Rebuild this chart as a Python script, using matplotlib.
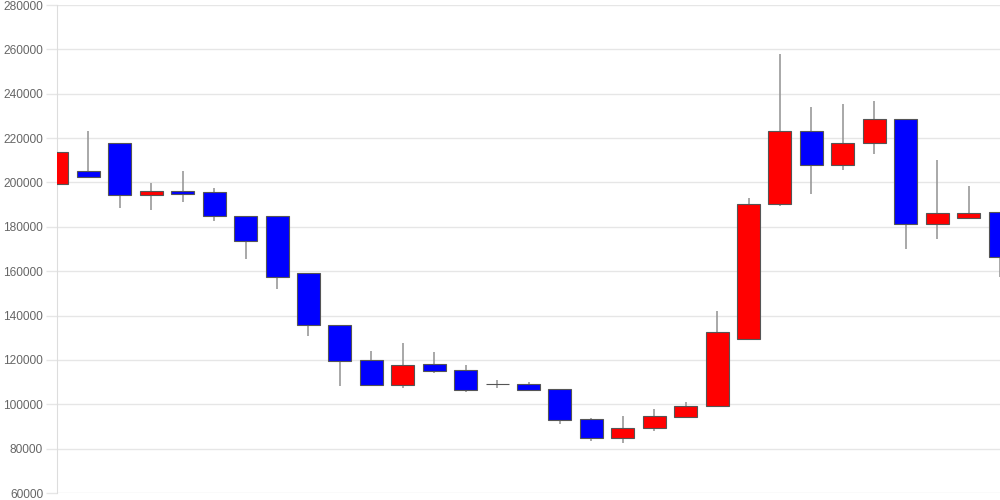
import numpy as np
import matplotlib
matplotlib.use('Agg')
import matplotlib.pyplot as plt

# daily OHLC (31 candles)
opens = [199500, 205200, 217800, 194300, 196300, 195600, 184900, 184900, 159200, 135600,
         119800, 108500, 118200, 115300, 109300, 109100, 106700, 93200, 84900, 89400,
         94400, 99000, 129400, 190200, 223000, 207700, 217600, 228600, 181100, 184100,
         186700]
closes = [213800, 202600, 194300, 196200, 195000, 185000, 173500, 157200, 135600, 119600,
          108500, 117500, 115200, 106500, 109100, 106500, 93000, 84900, 89200, 94700,
          99200, 132700, 190300, 223000, 207700, 217600, 228600, 181100, 186100, 186100,
          166200]
highs = [215000, 223200, 218000, 199600, 205200, 197600, 184900, 184900, 159200, 135600,
         124100, 127600, 123500, 117700, 111000, 110000, 106700, 93600, 94700, 97700,
         101000, 142000, 193100, 257800, 234000, 235200, 236700, 228600, 210000, 198500,
         186700]
lows = [194300, 202600, 188500, 187600, 191000, 182600, 165600, 151800, 130900, 108100,
        108500, 107400, 114100, 105600, 107200, 106100, 91200, 83500, 82600, 87900,
        94400, 99000, 129400, 189500, 194600, 205600, 212700, 169800, 174600, 184100,
        157500]
y_ticks = [60000, 80000, 100000, 120000, 140000, 160000, 180000, 200000, 220000, 240000, 260000, 280000]

o = np.array(opens)
c = np.array(closes)
x = np.arange(len(opens))
colors = ['#ff0000' if cc >= oo else '#0000ff' for oo, cc in zip(o, c)]

fig = plt.figure(figsize=(10, 5), dpi=100)
ax = fig.add_axes([0.057, 0.014, 0.943, 0.976])

ax.vlines(x, lows, highs, color='#999999', linewidth=1.2, zorder=2)
ax.bar(x, np.maximum(np.abs(c - o), 150), bottom=np.minimum(o, c), width=0.73,
       color=colors, edgecolor='#555555', linewidth=0.8, zorder=3)

ax.set_xlim(0, 30)
ax.set_ylim(60000, 280000)
ax.set_yticks(y_ticks)
ax.set_yticklabels([str(v) for v in y_ticks])
ax.set_xticks([])
ax.grid(axis='y', color='#e6e6e6', linewidth=1)
ax.set_axisbelow(True)
ax.tick_params(axis='y', length=8, width=1, color='#e6e6e6', labelcolor='#666666',
               labelsize=8.6, pad=2)
for t in ax.get_yticklabels():
    t.set_family('Liberation Sans')
for s in ['top', 'right', 'bottom']:
    ax.spines[s].set_visible(False)
ax.spines['left'].set_color('#dddddd')

fig.savefig('out.png')
